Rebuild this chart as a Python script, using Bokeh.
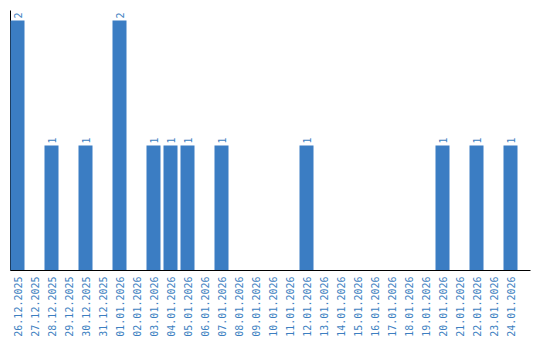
import math
from bokeh.plotting import figure
from bokeh.models import ColumnDataSource, Range1d
from bokeh.core.properties import value
from bokeh.embed import file_html
from bokeh.resources import INLINE

dates = ["26.12.2025", "27.12.2025", "28.12.2025", "29.12.2025", "30.12.2025",
         "31.12.2025", "01.01.2026", "02.01.2026", "03.01.2026", "04.01.2026",
         "05.01.2026", "06.01.2026", "07.01.2026", "08.01.2026", "09.01.2026",
         "10.01.2026", "11.01.2026", "12.01.2026", "13.01.2026", "14.01.2026",
         "15.01.2026", "16.01.2026", "17.01.2026", "18.01.2026", "19.01.2026",
         "20.01.2026", "21.01.2026", "22.01.2026", "23.01.2026", "24.01.2026"]
counts = [2, 0, 1, 0, 1, 0, 2, 0, 1, 1, 1, 0, 1, 0, 0, 0, 0, 1, 0, 0,
          0, 0, 0, 0, 0, 1, 0, 1, 0, 1]

BAR_COLOR = "#3b7dc3"
TEXT_COLOR = "#3d7fc1"
FONT = "DejaVu Sans Mono"

PX = 17.0          # pixels per category
PY = 125.0         # pixels per unit count
n = len(dates)
centers = [i + 7 / PX for i in range(n)]
src = ColumnDataSource(dict(x=centers, top=counts, zero=[0] * n, date=dates))
nz = [i for i, c in enumerate(counts) if c > 0]
lab_src = ColumnDataSource(dict(x=[centers[i] for i in nz], y=[counts[i] for i in nz],
                                label=[str(counts[i]) for i in nz]))

x_end = n + 10 / PX  # plot area ends 10px before bars' range end + margin
p = figure(width=540, height=340, output_backend="svg", toolbar_location=None,
           x_range=Range1d(-10 / PX, 530 / PX), y_range=Range1d(-70 / PY, 270 / PY),
           x_axis_location=None, y_axis_location=None,
           min_border=0)
p.outline_line_color = None
p.grid.visible = False

# axis lines
p.segment(x0=[0], y0=[0], x1=[0], y1=[260 / PY], line_color="black", line_width=1)

p.vbar(x="x", top="top", width=14 / PX, bottom=0, source=src,
       fill_color=BAR_COLOR, line_color=None)

p.segment(x0=[0], y0=[0], x1=[520 / PX], y1=[0], line_color="black", line_width=1)

# value labels
p.text(x="x", y="y", text="label", source=lab_src, angle=math.pi / 2,
       text_align="left", text_baseline="middle", y_offset=-2,
       text_font=value(FONT), text_font_size="10px", text_color=TEXT_COLOR)

# category labels
p.text(x="x", y="zero", text="date", source=src, angle=math.pi / 2,
       text_align="right", text_baseline="middle", y_offset=6,
       text_font=value(FONT), text_font_size="10px", text_color=TEXT_COLOR)

open("out.html", "w").write(file_html(p, INLINE))
